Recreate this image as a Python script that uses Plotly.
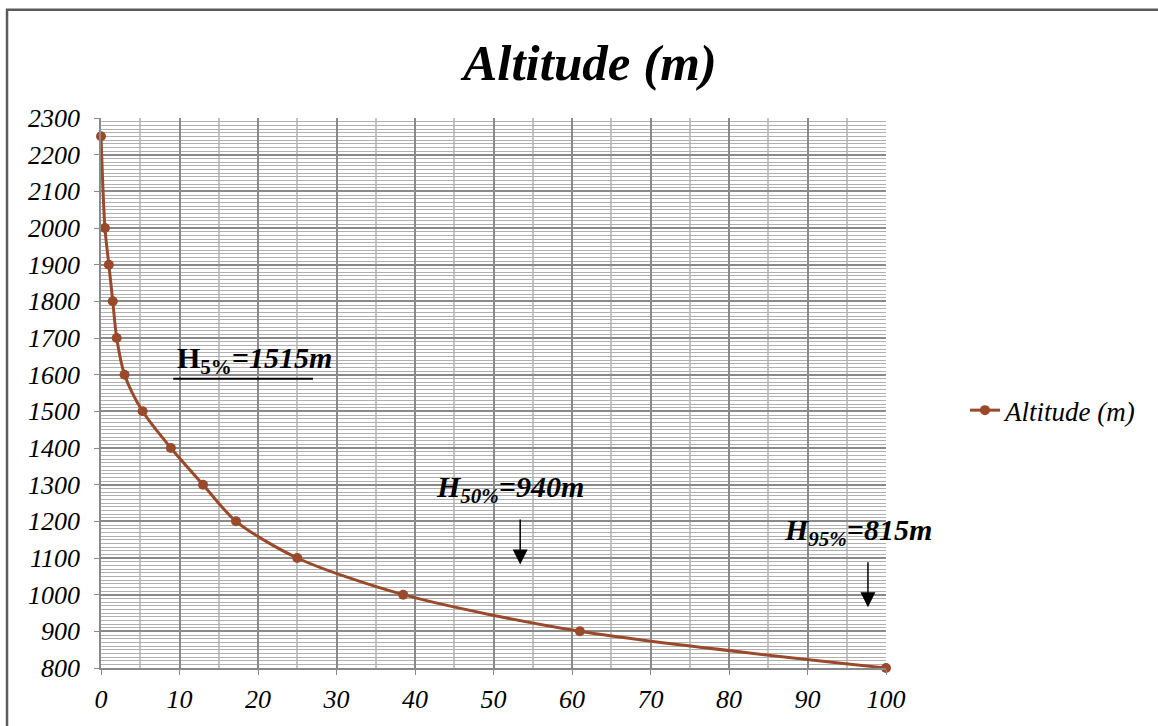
import plotly.graph_objects as go

# Data
exceedance_pct = [0, 0.5, 1.0, 1.5, 2.0, 3.0, 5.3, 8.9, 13.0, 17.2, 25.0, 38.5, 61.0, 100.0]
altitude_m = [2250, 2000, 1900, 1800, 1700, 1600, 1500, 1400, 1300, 1200, 1100, 1000, 900, 800]

x_ticks = [0, 10, 20, 30, 40, 50, 60, 70, 80, 90, 100]
y_ticks = [800, 900, 1000, 1100, 1200, 1300, 1400, 1500, 1600, 1700, 1800, 1900, 2000, 2100, 2200, 2300]

series_name = "Altitude (m)"
chart_title = "Altitude (m)"

FONT = "Liberation Serif"
LINE_COLOR = "#9A4A2B"

fig = go.Figure()
fig.add_trace(go.Scatter(
    x=exceedance_pct, y=altitude_m, name=series_name,
    mode="lines+markers",
    line=dict(color=LINE_COLOR, width=3, shape="spline", smoothing=0.8),
    marker=dict(color=LINE_COLOR, size=10),
    cliponaxis=False,
))

axis_font = dict(family=FONT, size=26, color="black", style="italic")

fig.update_xaxes(
    range=[0, 100],
    tickvals=x_ticks, ticktext=[f"<i>{v}</i>" for v in x_ticks],
    showgrid=True, gridcolor="#8a8a8a", gridwidth=1.5,
    showline=True, linecolor="#8a8a8a", linewidth=1.5,
    ticks="outside", ticklen=5, tickcolor="#8a8a8a",
    tickfont=axis_font, zeroline=False, ticklabelstandoff=2,
    minor=dict(dtick=5, tick0=0, showgrid=True, gridcolor="#c4c4c4", gridwidth=1.5, ticks=""),
)
fig.update_yaxes(
    range=[800, 2300],
    tickvals=y_ticks, ticktext=[f"<i>{v}</i>" for v in y_ticks],
    showgrid=True, gridcolor="#8a8a8a", gridwidth=1.5,
    showline=True, linecolor="#8a8a8a", linewidth=1.5,
    ticks="outside", ticklen=5, tickcolor="#8a8a8a",
    tickfont=axis_font, zeroline=False, ticklabelstandoff=9,
    minor=dict(dtick=10, tick0=800, showgrid=True, gridcolor="#b0b0b0", gridwidth=1, ticks=""),
)

fig.update_layout(
    width=1158, height=726,
    margin=dict(l=101, r=272, t=118, b=55),
    paper_bgcolor="white", plot_bgcolor="white",
    title=dict(
        text=chart_title, x=0.623, xref="paper", xanchor="center",
        y=1 - 62 / 726, yref="container", yanchor="middle",
        font=dict(family=FONT, size=51, color="black", style="italic", weight="bold"),
    ),
    legend=dict(
        x=1.1006, y=0.468, xanchor="left", yanchor="middle",
        font=dict(family=FONT, size=27, color="black", style="italic"),
        bgcolor="rgba(0,0,0,0)",
    ),
    showlegend=True,
)

# Outer chart border
fig.add_shape(type="rect", xref="paper", yref="paper",
              x0=-0.1197, y0=-0.3, x1=1.6, y1=1.197,
              line=dict(color="#5a5a5a", width=2.5), layer="above")

ann_font = dict(family=FONT, size=30, color="black")

fig.add_annotation(x=19.5, y=1640, xref="x", yref="y",
                   text="<b>H<sub>5%</sub><i>=1515m</i></b>",
                   showarrow=False, font=ann_font)
fig.add_shape(type="line", xref="x", yref="y", x0=9.2, x1=27.0, y0=1589, y1=1589,
              line=dict(color="black", width=2))

fig.add_annotation(x=52.1, y=1288, xref="x", yref="y",
                   text="<b><i>H<sub>50%</sub>=940m</i></b>",
                   showarrow=False, font=ann_font)
fig.add_annotation(x=53.4, y=1082, xref="x", yref="y", text=" ",
                   showarrow=True, ax=0, ay=-55, axref="pixel", ayref="pixel",
                   arrowhead=2, arrowsize=2, arrowwidth=1.5, arrowcolor="black")

fig.add_annotation(x=96.4, y=1172, xref="x", yref="y",
                   text="<b><i>H<sub>95%</sub>=815m</i></b>",
                   showarrow=False, font=ann_font)
fig.add_annotation(x=97.7, y=966, xref="x", yref="y", text=" ",
                   showarrow=True, ax=0, ay=-55, axref="pixel", ayref="pixel",
                   arrowhead=2, arrowsize=2, arrowwidth=1.5, arrowcolor="black")

fig.write_html("out.html", config={"displayModeBar": False},
               post_script="document.body.style.margin='0';")
